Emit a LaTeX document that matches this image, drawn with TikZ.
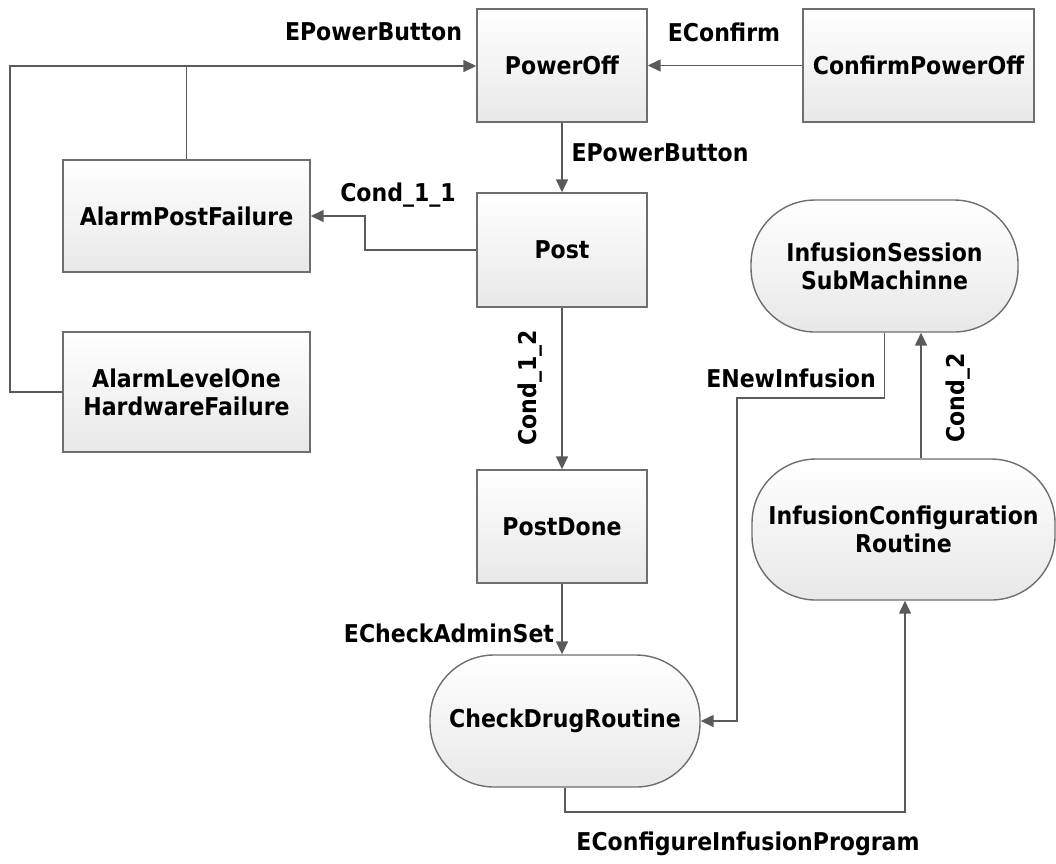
\documentclass[tikz,border=0pt]{standalone}
\usepackage{fontspec}
\setmainfont{DejaVu Sans Condensed}
\usetikzlibrary{arrows.meta}
\definecolor{edgegray}{HTML}{5A5A5A}
\definecolor{boxline}{HTML}{6E6E6E}
\begin{document}
\begin{tikzpicture}[x=1pt,y=-1pt,
  font=\fontsize{24.5}{28}\selectfont\bfseries,
  state/.style={draw=boxline, line width=1.4pt, top color=white, bottom color=black!9,
    align=center, inner sep=0pt},
  boxstate/.style={state, rectangle},
  roundstate/.style={state, rectangle, rounded corners=64pt},
  arr/.style={draw=edgegray, line width=1.5pt, -{Triangle[length=13pt,width=12pt]}},
  lbl/.style={inner sep=0pt, text=black}]
\useasboundingbox (0,0) rectangle (1056,863);

% states
\node[boxstate, minimum width=170pt, minimum height=113pt] (poweroff) at (562,65.5) {PowerOff};
\node[boxstate, minimum width=231pt, minimum height=113pt] (confirm) at (918.5,65.5) {ConfirmPowerOff};
\node[boxstate, minimum width=247pt, minimum height=112pt] (alarmpost) at (186.5,216) {AlarmPostFailure};
\node[boxstate, minimum width=170pt, minimum height=114pt] (post) at (562,250) {Post};
\node[boxstate, minimum width=247pt, minimum height=120pt] (alarmhw) at (186.5,392) {AlarmLevelOne\\HardwareFailure};
\node[boxstate, minimum width=170pt, minimum height=113pt] (postdone) at (562,526.5) {PostDone};
\node[roundstate, minimum width=270pt, minimum height=132pt] (checkdrug) at (565,721) {CheckDrugRoutine};
\node[roundstate, minimum width=267pt, minimum height=132pt] (session) at (884.5,266) {InfusionSession\\SubMachinne};
\node[roundstate, minimum width=303pt, minimum height=141pt] (config) at (903.5,529.5) {InfusionConfiguration\\Routine};

% routing points
\coordinate (leftbus) at (10,66);
\coordinate (condturn) at (365,250);
\coordinate (newinf) at (737,398);
\coordinate (condtwo) at (921,0);
\coordinate (cfgturn) at (905,812);

% transitions
\draw[arr] (alarmhw.west) -| (leftbus) -- (poweroff.west |- leftbus);
\draw[edgegray, line width=1.5pt] (alarmpost.north) -- (alarmpost.north |- leftbus);
\draw[arr] (confirm.west) -- (poweroff.east);
\draw[arr] (poweroff.south) -- (post.north);
\draw[arr] (post.west) -- (condturn) |- (alarmpost.east);
\draw[arr] (post.south) -- (postdone.north);
\draw[arr] (postdone.south) -- (postdone.south |- checkdrug.north);
\draw[arr] (session.south) |- (newinf) |- (checkdrug.east);
\draw[arr] (config.north -| condtwo) -- (session.south -| condtwo);
\draw[arr] (checkdrug.south) |- (cfgturn) -- (config.south -| cfgturn);

% transition labels
\node[lbl] (l1) at (373.5,32) {EPowerButton};
\node[lbl] (l2) at (724,32) {EConfirm};
\node[lbl] (l3) at (660,153) {EPowerButton};
\node[lbl] (l4) at (398,195) {Cond\_1\_1};
\node[lbl, rotate=90] (l5) at (530,388) {Cond\_1\_2};
\node[lbl] (l6) at (449,633) {ECheckAdminSet};
\node[lbl] (l7) at (791,378) {ENewInfusion};
\node[lbl, rotate=90] (l8) at (958,398) {Cond\_2};
\node[lbl] (l9) at (748,844) {EConfigureInfusionProgram};
\end{tikzpicture}
\end{document}
